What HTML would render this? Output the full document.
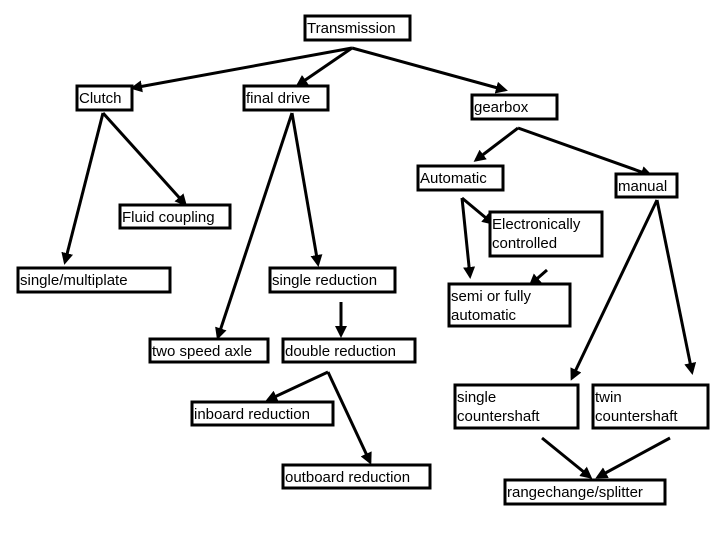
<!DOCTYPE html>
<html><head><meta charset="utf-8"><style>
html,body{margin:0;padding:0;background:#fff}
svg{display:block}
text{font-family:"Liberation Sans",Arial,sans-serif;font-size:15px;fill:#000}
.b{fill:#fff;stroke:#000;stroke-width:3}
.l{stroke:#000;stroke-width:3;fill:none}
</style></head><body>
<svg width="720" height="540" viewBox="0 0 720 540">
<defs><marker id="a" markerWidth="4" markerHeight="4" refX="3" refY="2" orient="auto" markerUnits="strokeWidth"><path d="M0,0L4,2L0,4z" fill="#000"/></marker></defs>
<g class="l" marker-end="url(#a)">
<line x1="352" y1="48" x2="133" y2="88"/>
<line x1="352" y1="48" x2="298" y2="85"/>
<line x1="352" y1="48" x2="505" y2="90"/>
<line x1="103" y1="113" x2="65" y2="262"/>
<line x1="103" y1="113" x2="185" y2="204"/>
<line x1="292" y1="113" x2="218" y2="337"/>
<line x1="292" y1="113" x2="318" y2="264"/>
<line x1="518" y1="128" x2="476" y2="160"/>
<line x1="518" y1="128" x2="650" y2="175"/>
<line x1="462" y1="198" x2="470" y2="276"/>
<line x1="462" y1="198" x2="492" y2="223"/>
<line x1="547" y1="270" x2="531" y2="284"/>
<line x1="341" y1="302" x2="341" y2="335"/>
<line x1="328" y1="372" x2="268" y2="400"/>
<line x1="328" y1="372" x2="370" y2="462"/>
<line x1="657" y1="200" x2="572" y2="378"/>
<line x1="657" y1="200" x2="692" y2="372"/>
<line x1="542" y1="438" x2="590" y2="477"/>
<line x1="670" y1="438" x2="598" y2="477"/>
</g>
<rect class="b" x="305" y="16" width="105" height="24"/><text x="307" y="33">Transmission</text>
<rect class="b" x="77" y="86" width="55" height="24"/><text x="79" y="103">Clutch</text>
<rect class="b" x="244" y="86" width="84" height="24"/><text x="246" y="103">final drive</text>
<rect class="b" x="472" y="95" width="85" height="24"/><text x="474" y="112">gearbox</text>
<rect class="b" x="418" y="166" width="85" height="24"/><text x="420" y="183">Automatic</text>
<rect class="b" x="616" y="174" width="61" height="23"/><text x="618" y="191">manual</text>
<rect class="b" x="120" y="205" width="110" height="23"/><text x="122" y="222">Fluid coupling</text>
<rect class="b" x="490" y="212" width="112" height="44"/><text x="492" y="229">Electronically</text><text x="492" y="248">controlled</text>
<rect class="b" x="18" y="268" width="152" height="24"/><text x="20" y="285">single/multiplate</text>
<rect class="b" x="270" y="268" width="125" height="24"/><text x="272" y="285">single reduction</text>
<rect class="b" x="449" y="284" width="121" height="42"/><text x="451" y="301">semi or fully</text><text x="451" y="320">automatic</text>
<rect class="b" x="150" y="339" width="118" height="23"/><text x="152" y="356">two speed axle</text>
<rect class="b" x="283" y="339" width="132" height="23"/><text x="285" y="356">double reduction</text>
<rect class="b" x="192" y="402" width="141" height="23"/><text x="194" y="419">inboard reduction</text>
<rect class="b" x="455" y="385" width="123" height="43"/><text x="457" y="402">single</text><text x="457" y="421">countershaft</text>
<rect class="b" x="593" y="385" width="115" height="43"/><text x="595" y="402">twin</text><text x="595" y="421">countershaft</text>
<rect class="b" x="283" y="465" width="147" height="23"/><text x="285" y="482">outboard reduction</text>
<rect class="b" x="505" y="480" width="160" height="24"/><text x="507" y="497">rangechange/splitter</text>
</svg>
</body></html>
